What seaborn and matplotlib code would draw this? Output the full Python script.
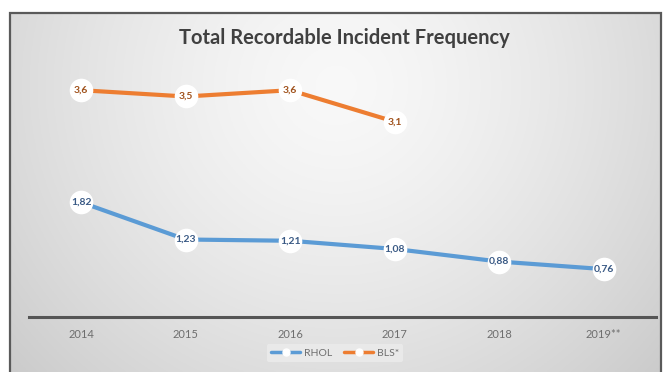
import numpy as np
import pandas as pd
import matplotlib
matplotlib.use("Agg")
import matplotlib.pyplot as plt
import seaborn as sns
from matplotlib.patches import Rectangle
from matplotlib.lines import Line2D

years = ["2014", "2015", "2016", "2017", "2018", "2019**"]
rhol = [1.82, 1.23, 1.21, 1.08, 0.88, 0.76]
bls = [3.6, 3.5, 3.6, 3.1]
rhol_labels = ["1,82", "1,23", "1,21", "1,08", "0,88", "0,76"]
bls_labels = ["3,6", "3,5", "3,6", "3,1"]

sns.set_theme(style="white")
plt.rcParams['font.family'] = ['Lato', 'DejaVu Sans']

W, H = 667, 372
fig = plt.figure(figsize=(W / 100, H / 100), dpi=100)
fig.patch.set_facecolor("white")

# gradient background inside the frame
bx0, by0, bx1, by1 = 10, 13, 661, 372
bg = fig.add_axes([bx0 / W, 0, (bx1 - bx0) / W, (H - by0) / H], zorder=-2)
yy, xx = np.mgrid[0:200, 0:400]
cx, cy = 200, 40
r = np.sqrt(((xx - cx) / 260.0) ** 2 + ((yy - cy) / 230.0) ** 2)
val = np.clip(0.975 - 0.17 * r ** 1.4, 0.76, 0.98)
bg.imshow(np.dstack([val, val, val]), aspect="auto", extent=[0, 1, 0, 1], origin="upper")
bg.set_axis_off()
fig.patches.append(Rectangle((bx0 / W, -0.01), (bx1 - bx0) / W, (H - by0) / H + 0.01,
                             transform=fig.transFigure, fill=False,
                             edgecolor="#5a5a5a", linewidth=1.6, zorder=5))

ax = fig.add_axes([29 / W, 55 / H, (656 - 29) / W, (317 - 60) / H])
ax.patch.set_alpha(0)

df_r = pd.DataFrame({"year": years, "value": rhol, "series": "RHOL"})
df_b = pd.DataFrame({"year": years[:len(bls)], "value": bls, "series": "BLS*"})
df = pd.concat([df_r, df_b], ignore_index=True)
df["x"] = df["year"].map({y: i for i, y in enumerate(years)})

palette = {"RHOL": "#5b9bd5", "BLS*": "#ed7d31"}
sns.lineplot(data=df, x="x", y="value", hue="series", palette=palette, ax=ax,
             linewidth=3, marker="o", markersize=17, markerfacecolor="white",
             markeredgecolor="white", markeredgewidth=0, legend=False, sort=False)

for i, (v, lab) in enumerate(zip(rhol, rhol_labels)):
    ax.text(i, v, lab, ha="center", va="center", fontsize=7.5, fontweight="bold",
            color="#3a5a85", zorder=6)
for i, (v, lab) in enumerate(zip(bls, bls_labels)):
    ax.text(i, v, lab, ha="center", va="center", fontsize=7.5, fontweight="bold",
            color="#a0521c", zorder=6)

ax.set_xlim(-0.5, len(years) - 0.5)
ax.set_ylim(0, (317 - 60) / 63.0)
ax.set_xticks(range(len(years)))
ax.set_xticklabels(years, fontsize=8, color="#6e6e6e")
ax.set_yticks([])
ax.set_xlabel("")
ax.set_ylabel("")
for s in ["top", "right", "left"]:
    ax.spines[s].set_visible(False)
ax.spines["bottom"].set_color("#555555")
ax.spines["bottom"].set_linewidth(2.2)
ax.tick_params(axis="x", length=0, pad=9)

fig.text(0.517, 1 - 38 / H, "Total Recordable Incident Frequency", ha="center", va="center",
         fontsize=14.5, fontweight="bold", color="#404040")

handles = [Line2D([], [], color=palette[s], linewidth=2.5, marker="o", markersize=5,
                  markerfacecolor="white", markeredgecolor="white") for s in ["RHOL", "BLS*"]]
leg = fig.legend(handles, ["RHOL", "BLS*"], loc="center", bbox_to_anchor=(335 / W, 1 - 353 / H),
                 ncol=2, frameon=True, fontsize=7.5, handlelength=2.8, columnspacing=1.2,
                 handletextpad=0.3, borderpad=0.4)
leg.get_frame().set_facecolor("#ececec")
leg.get_frame().set_edgecolor("none")
for t in leg.get_texts():
    t.set_color("#6e6e6e")

fig.savefig("out.png", dpi=100)
